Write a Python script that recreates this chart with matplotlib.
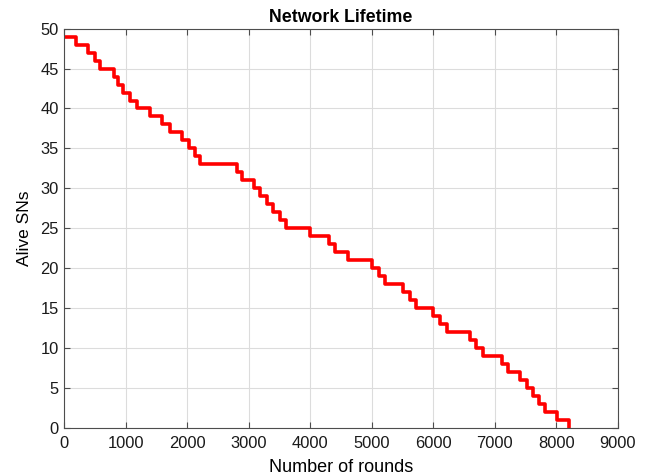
import matplotlib
matplotlib.use("Agg")
import matplotlib.pyplot as plt

plt.rcParams['font.family'] = ['Liberation Sans', 'DejaVu Sans']

# Round at which the number of alive sensor nodes drops to the given value
rounds = [0, 190, 380, 500, 580, 800, 880, 960, 1070, 1180,
          1400, 1590, 1720, 1910, 2020, 2120, 2200, 2800, 2890, 3080,
          3190, 3290, 3390, 3500, 3610, 4000, 4300, 4400, 4610, 5010,
          5110, 5220, 5500, 5620, 5720, 6000, 6110, 6220, 6600, 6700,
          6810, 7110, 7210, 7410, 7520, 7620, 7720, 7820, 8010, 8210]
alive = list(range(49, -1, -1))

x_ticks = [0, 1000, 2000, 3000, 4000, 5000, 6000, 7000, 8000, 9000]
y_ticks = [0, 5, 10, 15, 20, 25, 30, 35, 40, 45, 50]

fig = plt.figure(figsize=(6.51, 4.76), dpi=100)
ax = fig.add_axes([64.3/651, (476-427.7)/476, (617.8-64.3)/651, (427.7-28.7)/476])

ax.plot(rounds, alive, drawstyle='steps-post', color='#ff0000', lw=2.6)

ax.set_xlim(0, 9000)
ax.set_ylim(0, 50)
ax.set_xticks(x_ticks)
ax.set_yticks(y_ticks)
ax.grid(True, color='#dcdcdc', lw=0.8)
ax.set_axisbelow(True)
for s in ax.spines.values():
    s.set_color('#4d4d4d')
    s.set_linewidth(0.8)
ax.tick_params(direction='in', top=True, right=True, length=4, width=0.8,
               color='#4d4d4d', labelsize=11.9, labelcolor='#1a1a1a')
ax.tick_params(axis='x', pad=6)
ax.tick_params(axis='y', pad=4)

ax.set_title('Network Lifetime', fontsize=12.8, fontweight='bold', pad=4.5)
ax.set_xlabel('Number of rounds', fontsize=13, labelpad=6)
ax.set_ylabel('Alive SNs', fontsize=12.5, labelpad=6)

fig.savefig('out.png', dpi=100)
